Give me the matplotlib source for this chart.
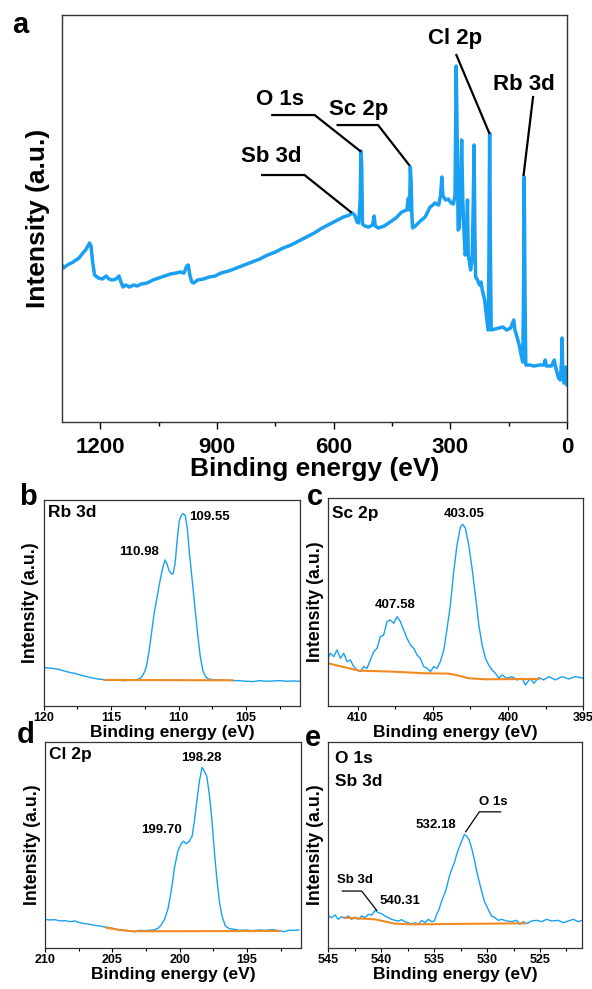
import matplotlib
matplotlib.use("Agg")
import matplotlib.pyplot as plt
from matplotlib.ticker import MultipleLocator

plt.rcParams['font.family'] = ['Liberation Sans', 'DejaVu Sans']
plt.rcParams['font.weight'] = 'bold'

BLUE = '#1AA0F2'
ORANGE = '#F28A22'

# --- (a) survey spectrum ---
survey_ev = [1300, 1295, 1285, 1270, 1255, 1245, 1238, 1232, 1228, 1224, 1220, 1215, 1205, 1195,
             1185, 1178, 1170, 1160, 1152, 1148, 1142, 1135, 1125, 1115, 1105, 1095, 1080, 1065,
             1050, 1035, 1020, 1005, 995, 985, 978, 974, 970, 965, 960, 950, 935, 920, 905, 890,
             870, 850, 830, 810, 790, 770, 750, 730, 710, 690, 670, 650, 630, 610, 590, 575, 560,
             552, 546, 540, 536, 532, 530, 528, 526, 520, 510, 500, 496, 493, 485, 470, 455, 440,
             425, 412, 408, 405, 403, 401, 399, 397, 390, 380, 365, 352, 345, 340, 330, 325, 322,
             319, 312, 305, 298, 292, 288, 285, 282, 280, 277, 274, 271, 268, 265, 262, 259, 256,
             254, 251, 248, 244, 241, 239, 237, 235, 230, 225, 221, 218, 212, 206, 203, 201, 199,
             197, 195, 185, 175, 165, 155, 145, 140, 137, 134, 130, 123, 118, 114, 112, 110, 108,
             106, 95, 85, 70, 60, 56, 53, 40, 33, 30, 26, 22, 17, 14, 12.6, 11, 8, 5, 3, 1, 0]
survey_int = [158, 154, 157, 160, 164, 169, 172, 176, 179, 176, 160, 147, 144, 143,
              146, 143, 142, 143, 146, 141, 135, 137, 135, 137, 136, 138, 139, 142,
              144, 146, 148, 149, 150, 149, 156, 157, 147, 140, 139, 142, 143, 145, 146, 149,
              151, 154, 157, 160, 163, 167, 170, 174, 177, 181, 185, 189, 194, 198, 202, 205, 207,
              209, 207, 200, 199, 222, 271, 257, 198, 196, 195, 197, 206, 196, 194, 196, 200, 204,
              210, 212, 224, 212, 255, 242, 207, 194, 196, 200, 205, 215, 217, 219, 217, 227, 245,
              226, 222, 223, 219, 218, 227, 356, 272, 192, 194, 222, 282, 222, 190, 167, 172, 222,
              167, 160, 152, 162, 222, 277, 192, 145, 142, 137, 140, 132, 122, 102, 92, 152, 289,
              172, 92, 93, 94, 95, 92, 94, 99, 102, 92, 87, 77, 67, 60, 122, 245, 122,
              57, 57, 56, 57, 57, 62, 56, 56, 62, 56, 50, 44, 42, 62, 84, 52, 39, 44, 55, 37, 39]

# --- (b) Rb 3d ---
rb_ev = [120.0, 119.6, 119.2, 118.8, 118.4, 118.0, 117.6, 117.2, 116.8, 116.4, 116.0, 115.5, 115.0,
         114.5, 114.0, 113.5, 113.0, 112.8, 112.6, 112.4, 112.2, 112.0, 111.8, 111.6, 111.4, 111.2,
         111.0, 110.85, 110.7, 110.5, 110.4, 110.25, 110.1, 109.95, 109.8, 109.65, 109.5, 109.35,
         109.2, 109.0, 108.8, 108.6, 108.4, 108.2, 108.0, 107.8, 107.5, 107.0, 106.5, 106.0, 105.5,
         105.0, 104.5, 104.0, 103.5, 103.0, 102.5, 102.0, 101.5, 101.0]
rb_int = [115, 114, 112, 109, 104, 100, 97, 92, 88, 84, 81, 79, 78,
          77, 76, 77, 80, 84, 95, 115, 160, 220, 280, 325, 370, 410,
          438, 425, 405, 395, 398, 430, 500, 555, 572, 577, 570, 530,
          460, 380, 300, 220, 150, 105, 88, 81, 79, 78, 77, 76, 76,
          74, 73, 76, 74, 75, 76, 74, 75, 74]
rb_bg_ev = [115.5, 106.0]
rb_bg_int = [78, 77]

# --- (c) Sc 2p ---
sc_ev = [411.98, 411.82, 411.60, 411.38, 411.15, 410.93, 410.71, 410.49, 410.27, 410.04, 409.82,
         409.60, 409.38, 409.16, 408.93, 408.71, 408.49, 408.27, 408.05, 407.83, 407.60, 407.38,
         407.16, 406.94, 406.72, 406.49, 406.27, 406.05, 405.83, 405.61, 405.38, 405.16, 404.94,
         404.72, 404.50, 404.27, 404.05, 403.83, 403.61, 403.39, 403.16, 403.01, 402.83, 402.61,
         402.39, 402.17, 401.94, 401.72, 401.50, 401.28, 401.06, 400.83, 400.61, 400.39, 400.06,
         399.72, 399.39, 399.06, 398.84, 398.50, 398.28, 397.95, 397.62, 397.28, 396.84, 396.40,
         395.95, 395.51, 394.95]
sc_int = [143, 158, 148, 168, 143, 158, 133, 138, 118, 108, 103,
          118, 113, 138, 163, 173, 208, 213, 253, 258, 248, 268,
          253, 228, 203, 183, 173, 153, 143, 118, 113, 103, 118,
          113, 133, 168, 233, 303, 403, 483, 538, 545, 533, 483,
          413, 333, 243, 183, 143, 123, 108, 98, 83, 93, 83,
          88, 78, 83, 63, 83, 68, 85, 78, 88, 78, 88,
          81, 88, 83]
sc_bg_ev = [411.98, 409.93, 407.71, 405.49, 403.94, 403.28, 402.61, 401.50, 397.95]
sc_bg_int = [128, 106, 103, 98, 97, 91, 83, 80, 81]

# --- (d) Cl 2p ---
cl_ev = [210.00, 209.63, 209.26, 208.89, 208.52, 208.15, 207.78, 207.41, 207.04, 206.67, 206.30,
         205.93, 205.56, 205.19, 204.82, 204.45, 204.08, 203.71, 203.34, 202.97, 202.60, 202.23,
         201.86, 201.61, 201.36, 201.12, 200.87, 200.62, 200.38, 200.13, 199.88, 199.71, 199.51,
         199.27, 199.07, 198.90, 198.72, 198.53, 198.33, 198.16, 197.98, 197.79, 197.59, 197.42,
         197.24, 197.05, 196.85, 196.60, 196.31, 195.94, 195.57, 195.07, 194.58, 194.09, 193.59,
         193.10, 192.61, 192.24, 191.87, 191.49, 191.13]
cl_int = [86, 84, 85, 81, 82, 79, 81, 76, 73, 71, 68,
          66, 63, 61, 57, 54, 53, 51, 49, 53, 52, 53,
          55, 59, 69, 86, 116, 171, 241, 291, 313, 321, 313,
          321, 336, 381, 441, 501, 543, 531, 516, 461, 381, 291,
          211, 141, 96, 66, 58, 56, 53, 54, 52, 54, 53,
          55, 52, 49, 53, 53, 54]
cl_bg_ev = [205.44, 204.45, 203.46, 192.61]
cl_bg_int = [61, 54, 50, 51]

# --- (e) O 1s / Sb 3d ---
o_ev = [545.00, 544.69, 544.37, 544.06, 543.74, 543.43, 543.11, 542.80, 542.48, 542.17, 541.85,
        541.54, 541.22, 540.91, 540.59, 540.28, 539.96, 539.65, 539.33, 539.02, 538.70, 538.39,
        538.07, 537.76, 537.44, 537.13, 536.81, 536.50, 536.18, 535.87, 535.55, 535.24, 534.98,
        534.76, 534.54, 534.29, 534.04, 533.82, 533.60, 533.35, 533.09, 532.87, 532.65, 532.40,
        532.15, 531.93, 531.71, 531.46, 531.20, 530.98, 530.76, 530.51, 530.26, 530.04, 529.82,
        529.57, 529.25, 528.94, 528.62, 528.15, 527.68, 527.20, 526.89, 526.57, 526.26, 525.79,
        525.31, 524.84, 524.37, 523.90, 523.27, 522.80, 522.32, 521.85, 521.38, 521.00]
o_int = [96, 91, 99, 86, 94, 89, 96, 86, 93, 86, 96,
         91, 101, 99, 113, 106, 103, 96, 91, 86, 83, 81,
         85, 79, 76, 71, 76, 71, 83, 76, 86, 79, 81,
         101, 116, 141, 161, 181, 211, 236, 256, 281, 301, 321,
         341, 336, 326, 301, 266, 231, 201, 171, 141, 126, 111,
         96, 91, 83, 86, 81, 79, 83, 71, 79, 73, 81,
         83, 79, 86, 81, 83, 76, 81, 86, 79, 83]
o_bg_ev = [543.43, 540.59, 538.70, 537.13, 526.42]
o_bg_int = [91, 86, 73, 71, 74]

fig = plt.figure(figsize=(5.92, 9.89), dpi=100)

# panel a
ax = fig.add_axes([0.1039, 0.5733, 0.8539, 0.4115])
ax.plot(survey_ev, survey_int, color=BLUE, lw=2.5)
ax.set_xlim(1300, 0)
ax.set_ylim(0, 407)
ax.set_yticks([])
ax.xaxis.set_major_locator(MultipleLocator(300))
ax.xaxis.set_minor_locator(MultipleLocator(150))
ax.tick_params(axis='x', which='major', labelsize=16, length=5, width=1, pad=6)
ax.tick_params(axis='x', which='minor', length=3, width=1)
ax.set_xlabel('Binding energy (eV)', fontsize=19, fontweight='bold', labelpad=-1)
ax.set_ylabel('Intensity (a.u.)', fontsize=19, fontweight='bold', labelpad=8)
for s in ax.spines.values():
    s.set_color('#333333')
    s.set_linewidth(1)

leaders = [
    ('Cl 2p', (289, 384), [284.5, 200], [367, 289]),
    ('Rb 3d', (111.7, 338), [87.4, 111.7], [325, 247]),
    ('O 1s', (739, 323), [758, 649, 532], [307, 307, 271]),
    ('Sc 2p', (537, 313), [590, 486, 406], [297, 297, 257]),
    ('Sb 3d', (760, 266), [784, 675, 556], [247, 247, 210]),
]
for name, (tx, ty), lx, ly in leaders:
    ax.text(tx, ty, name, fontsize=16, fontweight='bold', ha='center', va='center')
    ax.plot(lx, ly, color='black', lw=1.6)


def small_panel(rect, ev, inten, bg_ev, bg_int, xlim, ylim_top):
    a = fig.add_axes(rect)
    a.plot(ev, inten, color=BLUE, lw=1.0)
    a.plot(bg_ev, bg_int, color=ORANGE, lw=1.5)
    a.set_xlim(*xlim)
    a.set_ylim(0, ylim_top)
    a.set_yticks([])
    a.xaxis.set_major_locator(MultipleLocator(5))
    a.xaxis.set_minor_locator(MultipleLocator(2.5))
    a.tick_params(axis='x', which='major', labelsize=9, length=3, width=0.8, pad=1)
    a.tick_params(axis='x', which='minor', length=2, width=0.8)
    a.set_xlabel('Binding energy (eV)', fontsize=12.5, fontweight='bold', labelpad=1)
    a.set_ylabel('Intensity (a.u.)', fontsize=12.8, fontweight='bold', labelpad=3)
    for s in a.spines.values():
        s.set_color('#333333')
        s.set_linewidth(0.9)
    return a


axb = small_panel([0.0735, 0.2862, 0.4335, 0.2083], rb_ev, rb_int, rb_bg_ev, rb_bg_int, (120, 101), 618)
axb.text(0.016, 0.94, 'Rb 3d', transform=axb.transAxes, fontsize=12.5, fontweight='bold', va='center')
axb.text(112.91, 463, '110.98', fontsize=9.5, fontweight='bold', ha='center', va='center')
axb.text(107.73, 568, '109.55', fontsize=9.5, fontweight='bold', ha='center', va='center')

axc = small_panel([0.5535, 0.2862, 0.4314, 0.2103], sc_ev, sc_int, sc_bg_ev, sc_bg_int, (412, 395), 624)
axc.text(0.018, 0.926, 'Sc 2p', transform=axc.transAxes, fontsize=12.5, fontweight='bold', va='center')
axc.text(407.49, 303, '407.58', fontsize=9.5, fontweight='bold', ha='center', va='center')
axc.text(402.88, 575, '403.05', fontsize=9.5, fontweight='bold', ha='center', va='center')

axd = small_panel([0.0760, 0.0415, 0.4320, 0.2083], cl_ev, cl_int, cl_bg_ev, cl_bg_int, (210, 191), 619)
axd.text(0.017, 0.94, 'Cl 2p', transform=axd.transAxes, fontsize=12.5, fontweight='bold', va='center')
axd.text(198.4, 571, '198.28', fontsize=9.5, fontweight='bold', ha='center', va='center')
axd.text(201.36, 353, '199.70', fontsize=9.5, fontweight='bold', ha='center', va='center')

axe = small_panel([0.5546, 0.0415, 0.4290, 0.2083], o_ev, o_int, o_bg_ev, o_bg_int, (545, 521), 619)
axe.text(0.026, 0.92, 'O 1s', transform=axe.transAxes, fontsize=12.5, fontweight='bold', va='center')
axe.text(0.026, 0.81, 'Sb 3d', transform=axe.transAxes, fontsize=12.5, fontweight='bold', va='center')
axe.text(529.41, 438, 'O 1s', fontsize=9.5, fontweight='bold', ha='center', va='center')
axe.plot([528.72, 530.73, 532.02], [409, 409, 349], color='black', lw=0.9)
axe.text(534.83, 369, '532.18', fontsize=9.5, fontweight='bold', ha='center', va='center')
axe.text(542.48, 203, 'Sb 3d', fontsize=9.5, fontweight='bold', ha='center', va='center')
axe.plot([543.68, 541.85, 540.43], [171, 171, 113], color='black', lw=0.9)
axe.text(538.23, 141, '540.31', fontsize=9.5, fontweight='bold', ha='center', va='center')

for letter, x, y in [('a', 0.035, 0.975), ('b', 0.047, 0.497), ('c', 0.532, 0.4975),
                     ('d', 0.044, 0.257), ('e', 0.529, 0.254)]:
    fig.text(x, y, letter, fontsize=21, fontweight='bold', ha='center', va='center')

fig.savefig('out.png', dpi=100, facecolor='white')
